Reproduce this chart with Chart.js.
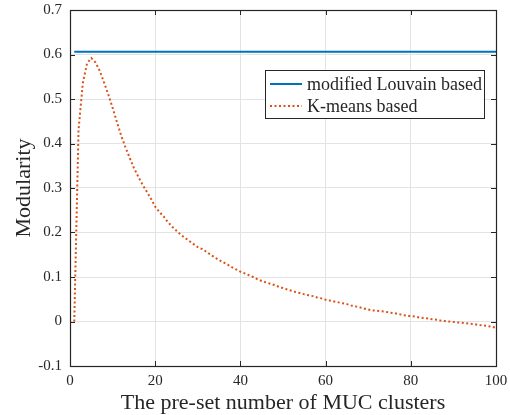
<!DOCTYPE html>
<html>
<head>
<meta charset="utf-8">
<script src="https://cdn.jsdelivr.net/npm/chart.js@4/dist/chart.umd.min.js"></script>
<style>
  html, body { margin: 0; padding: 0; background: #fff; }
  #wrap { width: 510px; height: 415px; }
</style>
</head>
<body>
<div id="wrap"><canvas id="modularity"></canvas></div>
<script>
// number of clusters 1..100
var clusters = [];
for (var i = 1; i <= 100; i++) { clusters.push(i); }

var louvainQ = 0.606;

var kmeansQ = [
    0.000, 0.430, 0.535, 0.580, 0.592, 0.582, 0.563, 0.537, 0.510, 0.480,
    0.449, 0.418, 0.392, 0.368, 0.345, 0.326, 0.308, 0.292, 0.276, 0.258,
    0.246, 0.236, 0.223, 0.213, 0.204, 0.195, 0.188, 0.181, 0.174, 0.167,
    0.163, 0.157, 0.150, 0.144, 0.138, 0.133, 0.128, 0.122, 0.117, 0.112,
    0.108, 0.104, 0.100, 0.095, 0.091, 0.088, 0.085, 0.082, 0.078, 0.075,
    0.072, 0.069, 0.066, 0.064, 0.061, 0.059, 0.057, 0.054, 0.052, 0.049,
    0.047, 0.045, 0.043, 0.041, 0.039, 0.036, 0.034, 0.032, 0.029, 0.027,
    0.025, 0.024, 0.023, 0.022, 0.020, 0.019, 0.017, 0.015, 0.013, 0.012,
    0.011, 0.009, 0.008, 0.007, 0.005, 0.004, 0.002, 0.001, 0.000, -0.001,
    -0.002, -0.003, -0.004, -0.005, -0.006, -0.008, -0.009, -0.010, -0.012, -0.014
];

var xTicks = [0, 20, 40, 60, 80, 100];
var yTicks = [-0.1, 0, 0.1, 0.2, 0.3, 0.4, 0.5, 0.6, 0.7];

var serif = "'Liberation Serif', 'DejaVu Serif', serif";
var ink = '#262626';

var louvainPts = clusters.map(function (c) { return { x: c, y: louvainQ }; });
var kmeansPts = clusters.map(function (c, i) { return { x: c, y: kmeansQ[i] }; });

// box with inward ticks, matlab style
var boxPlugin = {
    id: 'box',
    afterDatasetsDraw: function (chart) {
        var ctx = chart.ctx, a = chart.chartArea;
        var xs = chart.scales.x, ys = chart.scales.y;
        var tl = 5;
        ctx.save();
        ctx.strokeStyle = ink;
        ctx.lineWidth = 1;
        ctx.beginPath();
        xTicks.forEach(function (v) {
            var px = Math.round(xs.getPixelForValue(v)) + 0.5;
            ctx.moveTo(px, a.bottom); ctx.lineTo(px, a.bottom - tl);
            ctx.moveTo(px, a.top); ctx.lineTo(px, a.top + tl);
        });
        yTicks.forEach(function (v) {
            var py = Math.round(ys.getPixelForValue(v)) + 0.5;
            ctx.moveTo(a.left, py); ctx.lineTo(a.left + tl, py);
            ctx.moveTo(a.right, py); ctx.lineTo(a.right - tl, py);
        });
        ctx.stroke();
        ctx.lineWidth = 1.2;
        ctx.strokeRect(Math.round(a.left) + 0.5, Math.round(a.top) + 0.5,
            Math.round(a.right - a.left), Math.round(a.bottom - a.top));
        ctx.restore();
    }
};

var legendPlugin = {
    id: 'boxLegend',
    afterDraw: function (chart) {
        var ctx = chart.ctx;
        var x0 = 265.5, y0 = 70.5, w = 219, h = 48;
        ctx.save();
        ctx.fillStyle = '#fff';
        ctx.fillRect(x0, y0, w, h);
        ctx.strokeStyle = ink;
        ctx.lineWidth = 1;
        ctx.strokeRect(x0, y0, w, h);
        ctx.font = '18px ' + serif;
        ctx.textBaseline = 'middle';
        chart.data.datasets.forEach(function (ds, i) {
            var y = 84 + i * 22;
            ctx.beginPath();
            ctx.strokeStyle = ds.borderColor;
            ctx.lineWidth = ds.borderWidth;
            ctx.setLineDash(ds.borderDash || []);
            ctx.moveTo(270, y); ctx.lineTo(302, y);
            ctx.stroke();
            ctx.setLineDash([]);
            ctx.fillStyle = ink;
            ctx.fillText(ds.label, 307, y + 1);
        });
        ctx.restore();
    }
};

// drop the automatic label overhang so layout padding sets the plot box
var noPad = function (s) {
    s.paddingTop = 0; s.paddingBottom = 0; s.paddingLeft = 0; s.paddingRight = 0;
};

var ctxm = document.getElementById('modularity');
var myChart = new Chart(ctxm, {
    type: 'line',
    data: {
        datasets: [
            {
                label: 'modified Louvain based',
                data: louvainPts,
                borderColor: '#0072BD',
                borderWidth: 2,
                pointRadius: 0,
                fill: false
            },
            {
                label: 'K-means based',
                data: kmeansPts,
                borderColor: '#D95319',
                borderWidth: 2,
                borderDash: [2, 2.5],
                pointRadius: 0,
                fill: false
            }
        ]
    },
    plugins: [boxPlugin, legendPlugin],
    options: {
        responsive: true,
        maintainAspectRatio: false,
        animation: false,
        layout: { padding: { top: 10, right: 14, bottom: 0, left: 0 } },
        plugins: { legend: { display: false }, tooltip: { enabled: false } },
        scales: {
            x: {
                type: 'linear',
                min: 0, max: 100,
                afterFit: function (s) { s.height = 49; noPad(s); },
                afterBuildTicks: function (s) { s.ticks = xTicks.map(function (v) { return { value: v }; }); },
                ticks: { color: ink, padding: 6, font: { family: serif, size: 15 } },
                grid: { color: '#e3e3e3', drawTicks: false },
                border: { display: false },
                title: {
                    display: true,
                    text: 'The pre-set number of MUC clusters',
                    color: ink,
                    font: { family: serif, size: 22, lineHeight: 1 },
                    padding: { top: 0, bottom: 1 }
                }
            },
            y: {
                min: -0.1, max: 0.7,
                afterFit: function (s) { s.width = 70; noPad(s); },
                afterBuildTicks: function (s) { s.ticks = yTicks.map(function (v) { return { value: v }; }); },
                ticks: {
                    color: ink, padding: 8, font: { family: serif, size: 15 },
                    callback: function (v) { var r = Math.round(v * 10) / 10; return r === 0 ? '0' : r.toFixed(1); }
                },
                grid: { color: '#e3e3e3', drawTicks: false },
                border: { display: false },
                title: {
                    display: true,
                    text: 'Modularity',
                    color: ink,
                    font: { family: serif, size: 22, lineHeight: 1 },
                    padding: { top: 13, bottom: 0 }
                }
            }
        }
    }
});
</script>
</body>
</html>
